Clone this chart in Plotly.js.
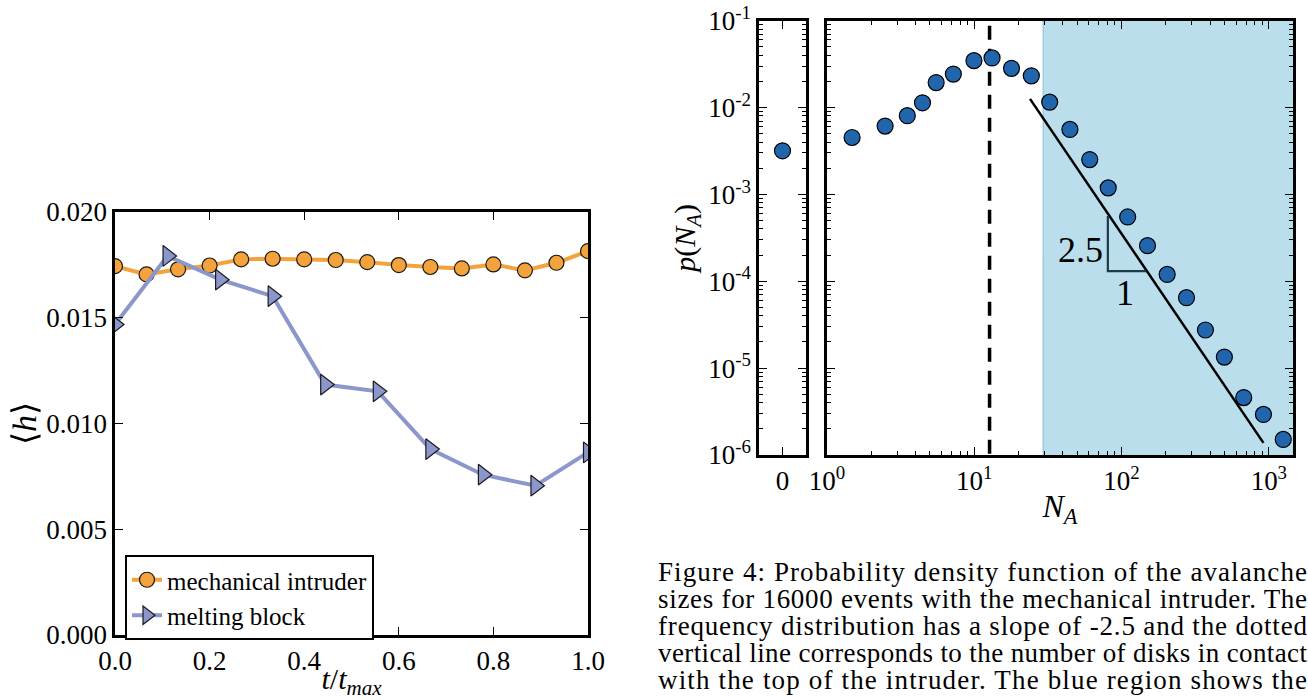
<!DOCTYPE html>
<html>
<head>
<meta charset="utf-8">
<script src="https://cdn.plot.ly/plotly-3.0.1.min.js"></script>
<style>
  html, body { margin: 0; padding: 0; background: #ffffff; }
  #chart { width: 1308px; height: 700px; }
</style>
</head>
<body>
<div id="chart"></div>
<script>
// ---------- Left panel: mean height vs normalized time ----------
const mechT = [0, 0.0667, 0.1333, 0.2, 0.2667, 0.3333, 0.4, 0.4667, 0.5333, 0.6, 0.6667, 0.7333, 0.8, 0.8667, 0.9333, 1.0];
const mechH = [0.01744, 0.01705, 0.01729, 0.01747, 0.01776, 0.01779, 0.01776, 0.01773, 0.01763, 0.01749, 0.01740, 0.01733, 0.01752, 0.01724, 0.01760, 0.01815];
const meltT = [0, 0.1111, 0.2222, 0.3333, 0.4444, 0.5556, 0.6667, 0.7778, 0.8889, 1.0];
const meltH = [0.01468, 0.01792, 0.01680, 0.01602, 0.01184, 0.01152, 0.00879, 0.00758, 0.00706, 0.00863];
const seriesNames = ['mechanical intruder', 'melting block'];

// ---------- Right panel: avalanche size distribution ----------
const zeroCat = [0];
const zeroP = [3.18e-3];
const naX = [1.48, 2.48, 3.51, 4.45, 5.51, 7.21, 9.95, 13.2, 17.9, 24.4, 32.5, 44.6, 60.8, 81.2, 110, 150, 204, 276, 371, 499, 675, 919, 1253];
const naP = [4.52e-3, 6.12e-3, 8.07e-3, 1.135e-2, 1.94e-2, 2.43e-2, 3.47e-2, 3.73e-2, 2.83e-2, 2.32e-2, 1.155e-2, 5.6e-3, 2.52e-3, 1.19e-3, 5.5e-4, 2.57e-4, 1.2e-4, 6.48e-5, 2.75e-5, 1.34e-5, 4.58e-6, 2.93e-6, 1.51e-6];
const fitX = [23.9, 919];
const fitP = [1.26e-2, 1.38e-6];
const slopeTriX = [80.7, 80.7, 147];
const slopeTriP = [5.66e-4, 1.31e-4, 1.31e-4];
const contactN = 12.7;
const powerLawStart = 29.4;
const powerLawEnd = 1e5;
const pRange = [1e-6, 1e-1];
const yTickVals = [1e-6, 1e-5, 1e-4, 1e-3, 1e-2, 1e-1];
const yTickText = ['10<sup>-6</sup>', '10<sup>-5</sup>', '10<sup>-4</sup>', '10<sup>-3</sup>', '10<sup>-2</sup>', '10<sup>-1</sup>'];
const xTickVals = [1, 10, 100, 1000];
const xTickText = ['10<sup>0</sup>', '10<sup>1</sup>', '10<sup>2</sup>', '10<sup>3</sup>'];

const captionLines = [
  'Figure 4: Probability density function of the avalanche',
  'sizes for 16000 events with the mechanical intruder. The',
  'frequency distribution has a slope of -2.5 and the dotted',
  'vertical line corresponds to the number of disks in contact',
  'with the top of the intruder. The blue region shows the'
];

// minor tick positions for log axes (2..9 in each decade)
function minorLog(d0, d1) {
  const v = [];
  for (let d = d0; d <= d1; d++) for (let k = 2; k <= 9; k++) v.push(k * Math.pow(10, d));
  return v;
}

const FONT = 'Liberation Serif';
const W = 1308, H = 700;
const px = v => v / W;
const py = v => 1 - v / H;
const CAPTION_LEFT = 657, CAPTION_WIDTH = 649;

const orange = '#f3a23c';
const lavender = '#8b97cc';
const dotBlue = '#2166ad';

const traces = [
  {
    x: mechT, y: mechH, name: seriesNames[0], type: 'scatter', mode: 'lines+markers',
    xaxis: 'x', yaxis: 'y',
    line: { color: orange, width: 4 },
    marker: { symbol: 'circle', size: 15, color: orange, line: { color: '#1a1a1a', width: 1.2 } }
  },
  {
    x: meltT, y: meltH, name: seriesNames[1], type: 'scatter', mode: 'lines+markers',
    xaxis: 'x', yaxis: 'y',
    line: { color: lavender, width: 4 },
    marker: { symbol: 'triangle-right', size: 18, color: lavender, line: { color: '#1a1a1a', width: 1.2 } }
  },
  // shaded power-law region
  {
    x: [powerLawStart, powerLawEnd, powerLawEnd, powerLawStart, powerLawStart],
    y: [pRange[0] / 10, pRange[0] / 10, pRange[1] * 10, pRange[1] * 10, pRange[0] / 10],
    xaxis: 'x3', yaxis: 'y3', type: 'scatter', mode: 'lines', fill: 'toself',
    fillcolor: '#badeeb', line: { color: '#9ccde0', width: 1.5 }, showlegend: false, hoverinfo: 'skip'
  },
  // contact-number dashed line
  {
    x: [contactN, contactN], y: [pRange[1] * 10, pRange[0] / 10],
    xaxis: 'x3', yaxis: 'y3', type: 'scatter', mode: 'lines',
    line: { color: '#000000', width: 3.5, dash: '14px,9px' }, showlegend: false
  },
  // fit line
  {
    x: fitX, y: fitP, xaxis: 'x3', yaxis: 'y3', type: 'scatter', mode: 'lines',
    line: { color: '#000000', width: 2.5 }, showlegend: false
  },
  // slope triangle
  {
    x: slopeTriX, y: slopeTriP, xaxis: 'x3', yaxis: 'y3', type: 'scatter', mode: 'lines',
    line: { color: '#1c3a48', width: 2.2 }, showlegend: false
  },
  // data
  {
    x: naX, y: naP, xaxis: 'x3', yaxis: 'y3', type: 'scatter', mode: 'markers',
    marker: { size: 16, color: dotBlue, line: { color: '#000000', width: 1.2 } }, showlegend: false
  },
  {
    x: zeroCat, y: zeroP, xaxis: 'x2', yaxis: 'y2', type: 'scatter', mode: 'markers',
    marker: { size: 16, color: dotBlue, line: { color: '#000000', width: 1.2 } }, showlegend: false
  }
];

const baseAxis = {
  showline: true, linecolor: '#000000', linewidth: 2.6, mirror: 'ticks',
  ticks: 'inside', ticklen: 8, tickwidth: 1.2, tickcolor: '#000000',
  showgrid: false, zeroline: false,
  tickfont: { family: FONT, size: 27, color: '#000000' }
};

const logMinorY = { ticks: 'inside', ticklen: 4, tickwidth: 1, tickcolor: '#000000', tickmode: 'array', tickvals: minorLog(-6, -2), showgrid: false };
const logMinorX = { ticks: 'inside', ticklen: 4, tickwidth: 1, tickcolor: '#000000', tickmode: 'array', tickvals: minorLog(0, 3), showgrid: false };

const layout = {
  width: W, height: H,
  margin: { l: 0, r: 0, t: 0, b: 0 },
  paper_bgcolor: '#ffffff', plot_bgcolor: '#ffffff',
  font: { family: FONT, size: 26, color: '#000000' },
  showlegend: true,
  legend: {
    x: px(125), y: py(555), xanchor: 'left', yanchor: 'top',
    bgcolor: '#ffffff', bordercolor: '#000000', borderwidth: 2,
    font: { family: FONT, size: 25, color: '#000000' },
    tracegroupgap: 0, itemwidth: 30
  },
  xaxis: Object.assign({}, baseAxis, {
    domain: [px(115), px(588)], anchor: 'y', range: [0, 1], tickmode: 'linear', tick0: 0, dtick: 0.2, tickformat: '.1f',
    title: { text: '<i>t</i>/<i>t</i><sub><i>max</i></sub>', font: { family: FONT, size: 30, color: '#000000' }, standoff: 4 }
  }),
  yaxis: Object.assign({}, baseAxis, {
    domain: [py(635), py(212)], anchor: 'x', range: [0, 0.02], tickmode: 'linear', tick0: 0, dtick: 0.005, tickformat: '.3f',
    title: { text: '⟨<i>h</i>⟩', font: { family: FONT, size: 34, color: '#000000' }, standoff: 0 }
  }),
  xaxis2: Object.assign({}, baseAxis, {
    domain: [px(759), px(806)], anchor: 'y2', range: [-1, 1], tickmode: 'array', tickvals: [0], ticktext: ['0']
  }),
  yaxis2: Object.assign({}, baseAxis, {
    domain: [py(455), py(20.7)], anchor: 'x2', type: 'log', range: [-6, -1],
    tickmode: 'array', tickvals: yTickVals, ticktext: yTickText, minor: logMinorY,
    title: { text: '<i>p</i>(<i>N</i><sub><i>A</i></sub>)', font: { family: FONT, size: 30, color: '#000000' }, standoff: 4 }
  }),
  xaxis3: Object.assign({}, baseAxis, {
    domain: [px(827), px(1293)], anchor: 'y3', type: 'log', range: [0, 3.164],
    tickmode: 'array', tickvals: xTickVals, ticktext: xTickText, minor: logMinorX,
    title: { text: '<i>N</i><sub><i>A</i></sub>', font: { family: FONT, size: 32, color: '#000000' }, standoff: 0 }
  }),
  yaxis3: Object.assign({}, baseAxis, {
    domain: [py(455), py(20.7)], anchor: 'x3', type: 'log', range: [-6, -1],
    tickmode: 'array', tickvals: yTickVals, ticktext: yTickText, showticklabels: false, minor: logMinorY
  }),
  annotations: [
    { xref: 'x3', yref: 'y3', x: Math.log10(52.5), y: Math.log10(2.31e-4), text: '2.5', showarrow: false,
      font: { family: FONT, size: 36, color: '#000000' } },
    { xref: 'x3', yref: 'y3', x: Math.log10(106), y: Math.log10(7.4e-5), text: '1', showarrow: false,
      font: { family: FONT, size: 36, color: '#000000' } }
  ].concat(captionLines.map((t, i) => ({
    xref: 'paper', yref: 'paper', x: px(CAPTION_LEFT), y: py(572 + 27 * i), xanchor: 'left', yanchor: 'middle',
    align: 'left', borderpad: 0,
    text: t, showarrow: false, font: { family: FONT, size: 27, color: '#000000' }
  })))
};

Plotly.newPlot('chart', traces, layout, { displayModeBar: false, staticPlot: true }).then(gd => {
  // justify the caption lines like the typeset paragraph
  gd.querySelectorAll('text.annotation-text').forEach(el => {
    if (captionLines.indexOf(el.textContent) >= 0) {
      el.setAttribute('textLength', CAPTION_WIDTH);
      el.setAttribute('lengthAdjust', 'spacing');
    }
  });
});
</script>
</body>
</html>
